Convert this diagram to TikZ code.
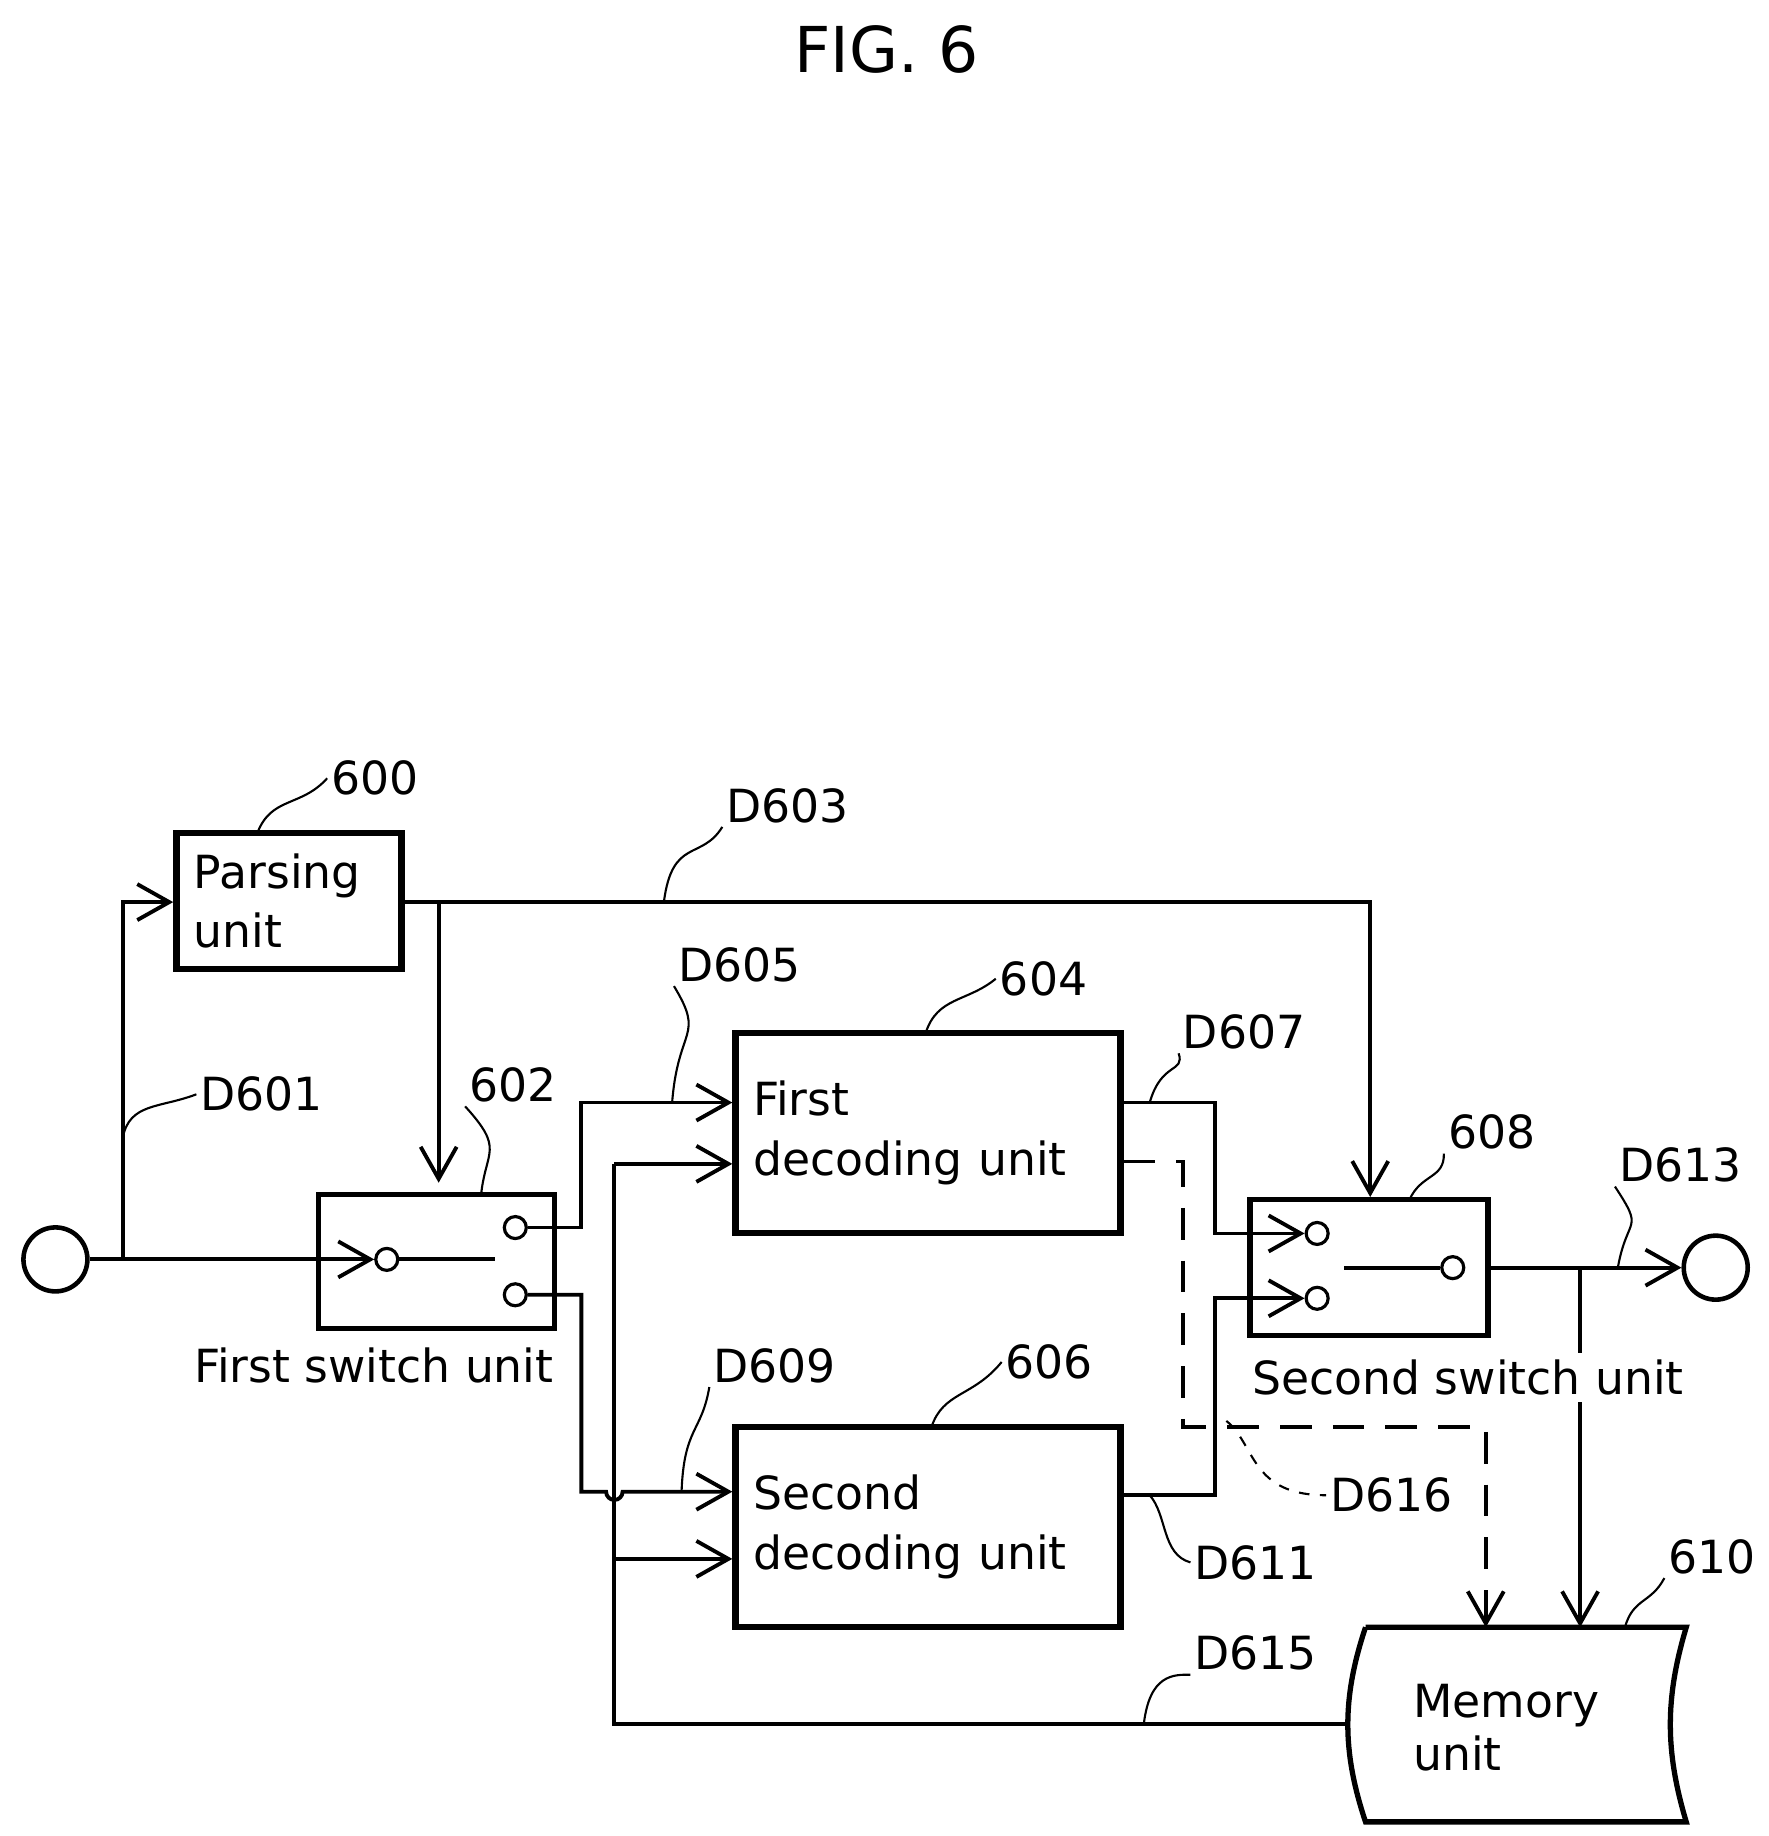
\documentclass[tikz,border=0pt]{standalone}
\usepackage{fontspec}
\setmainfont{DejaVu Sans}
\usetikzlibrary{arrows.meta}
\tikzset{
  blk/.style={draw, line width=1.8pt, align=left, inner sep=5pt, font=\fontsize{13}{17}\selectfont},
  wire/.style={line width=1.1pt},
  arr/.style={wire, -{Straight Barb[length=3.2mm,width=3.6mm,line width=1.1pt]}},
  lead/.style={line width=0.6pt},
  lbl/.style={font=\fontsize{13}{15}\selectfont, inner sep=1pt},
  port/.style={draw, circle, line width=0.9pt, minimum size=2.2mm, inner sep=0pt},
  term/.style={draw, circle, line width=1.3pt, minimum size=0.64cm, inner sep=0pt}
}
\begin{document}
\begin{tikzpicture}[x=0.01179cm, y=-0.01179cm]
\useasboundingbox (0,0) rectangle (1500,1557);
\node (title) [font=\fontsize{18}{20}\selectfont] at (752,42) {FIG. 6};

% terminals
\node (in) [term] at (47,1068) {};
\node (out) [term] at (1455,1075) {};

% blocks
\node (parse) [blk, minimum width=2.24cm, minimum height=1.36cm, text width=1.9cm] at (245,764) {Parsing\\unit};
\node (dec1) [blk, minimum width=3.78cm, minimum height=2.0cm, text width=3.5cm] at (787,961) {First\\decoding unit};
\node (dec2) [blk, minimum width=3.78cm, minimum height=2.0cm, text width=3.5cm] at (787,1295) {Second\\decoding unit};
\node (sw1) [draw, line width=1.5pt, minimum width=2.36cm, minimum height=1.34cm] at (370,1070) {};
\node (sw2) [draw, line width=1.5pt, minimum width=2.38cm, minimum height=1.36cm] at (1161,1075) {};

% memory unit
\draw [line width=1.5pt] (1158,1380) -- (1430,1380) .. controls (1412,1440) and (1412,1485) .. (1430,1545)
  -- (1158,1545) .. controls (1138,1485) and (1138,1440) .. (1158,1380);
\coordinate (memL) at (1143,1462);
\coordinate (memT1) at (1260,1380);
\coordinate (memT2) at (1340,1380);
\node (memtxt) [lbl, align=left, anchor=west] at (1195,1465) {Memory\\unit};

% switch ports
\node (p1in) [port] at (328,1068) {};
\node (p1a) [port] at (437,1041) {};
\node (p1b) [port] at (437,1098) {};
\node (p2a) [port] at (1117,1046) {};
\node (p2b) [port] at (1117,1101) {};
\node (p2out) [port] at (1232,1075) {};
\draw [wire] (p1in) -- (420,1068);
\draw [wire] (1140,1075) -- (p2out);

\node (sw1txt) [lbl] at (317,1158) {First switch unit};
\node (sw2txt) [lbl, fill=white] at (1245,1168) {Second switch unit};

% connections
\coordinate (j1) at (104,1068);
\draw [wire] (in) -- (j1);
\draw [arr] (j1) -- (p1in);
\draw [arr] (j1) |- (parse.west |- 0,765);
\draw [arr] (parse.east |- 0,765) -| (sw2.north -| 1162,0);
\draw [arr] (372,765) -- (372,1003);
\draw [arr] (p1a) -- (493,1041) |- (dec1.west |- 0,935);
\draw [arr] (p1b) -- (493,1098) -- (493,1265) -- (514,1265) arc (180:0:7) -- (dec2.west |- 0,1265);
\draw [wire] (memL) -- (521,1462) -- (521,987);
\draw [arr] (521,987) -- (dec1.west |- 0,987);
\draw [arr] (521,1322) -- (dec2.west |- 0,1322);
\draw [arr] (dec1.east |- 0,935) -- (1030,935) |- (p2a);
\draw [arr] (dec2.east |- 0,1268) -- (1030,1268) |- (p2b);
\draw [arr] (sw2.east |- 0,1075) -- (out);
\draw [arr] (1340,1075) -- (memT2);
\draw [arr, dashed, dash pattern=on 9pt off 6pt] (dec1.east |- 0,985) -- (1003,985) |- (1260,1210) -- (memT1);
\node (sw2txt2) [lbl, fill=white, inner sep=2pt] at (1245,1168) {Second switch unit};

% reference labels
\node (l600) [lbl] at (318,660) {600};
\node (l602) [lbl] at (435,920) {602};
\node (l604) [lbl] at (885,830) {604};
\node (l606) [lbl] at (890,1155) {606};
\node (l608) [lbl] at (1265,960) {608};
\node (l610) [lbl] at (1452,1320) {610};
\node (lD601) [lbl] at (222,928) {D601};
\node (lD603) [lbl] at (668,683) {D603};
\node (lD605) [lbl] at (627,818) {D605};
\node (lD607) [lbl] at (1055,875) {D607};
\node (lD609) [lbl] at (657,1158) {D609};
\node (lD611) [lbl] at (1065,1325) {D611};
\node (lD613) [lbl] at (1425,988) {D613};
\node (lD615) [lbl] at (1065,1402) {D615};
\node (lD616) [lbl] at (1180,1268) {D616};

% leaders
\draw [lead] (218,707) .. controls (230,675) and (255,685) .. (l600.west);
\draw [lead] (408,1013) .. controls (412,975) and (428,975) .. (l602.south west);
\draw [lead] (785,876) .. controls (795,845) and (820,850) .. (l604.west);
\draw [lead] (790,1210) .. controls (800,1180) and (825,1185) .. (l606.west);
\draw [lead] (1195,1018) .. controls (1205,995) and (1225,1000) .. (l608.south west);
\draw [lead] (1378,1380) .. controls (1385,1355) and (1400,1360) .. (l610.south west);
\draw [lead] (104,965) .. controls (110,935) and (135,940) .. (lD601.west);
\draw [lead] (563,765) .. controls (570,710) and (595,730) .. (lD603.south west);
\draw [lead] (570,935) .. controls (575,870) and (598,880) .. (lD605.south west);
\draw [lead] (975,935) .. controls (985,900) and (1005,910) .. (lD607.south west);
\draw [lead] (578,1265) .. controls (580,1210) and (595,1215) .. (lD609.south west);
\draw [lead] (975,1268) .. controls (990,1285) and (985,1318) .. (lD611.west);
\draw [lead] (1372,1075) .. controls (1380,1030) and (1395,1045) .. (lD613.south west);
\draw [lead] (970,1462) .. controls (975,1420) and (995,1420) .. (lD615.south west);
\draw [lead, dashed] (1040,1205) .. controls (1065,1225) and (1060,1268) .. (lD616.west);
\end{tikzpicture}
\end{document}
